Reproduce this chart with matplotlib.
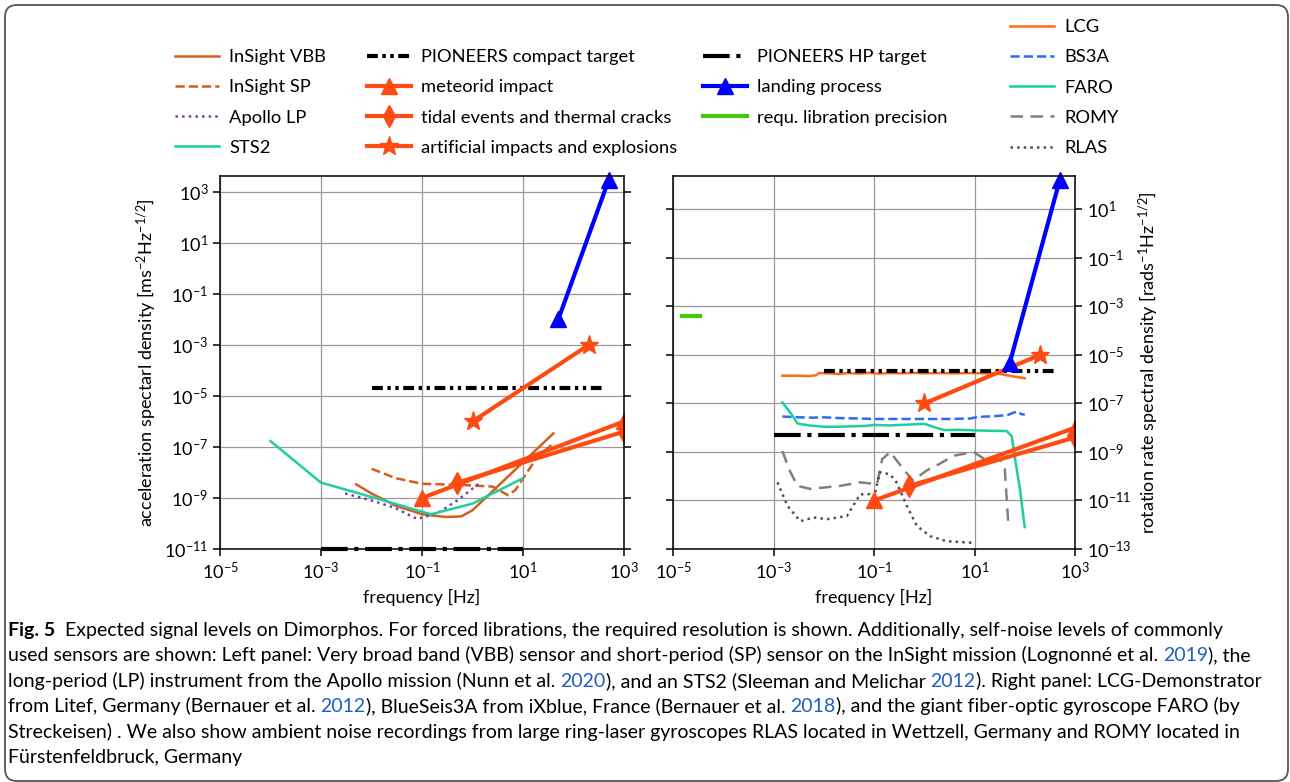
import matplotlib
matplotlib.use("Agg")
import matplotlib.pyplot as plt
from matplotlib.patches import FancyBboxPatch
from matplotlib.ticker import NullLocator
import matplotlib.transforms as mtransforms

plt.rcParams['font.family'] = ['Lato', 'DejaVu Sans']
plt.rcParams['mathtext.fontset'] = 'custom'
plt.rcParams['mathtext.rm'] = 'Lato'
plt.rcParams['mathtext.it'] = 'Lato:italic'
plt.rcParams['mathtext.bf'] = 'Lato:bold'

# ---- left panel: acceleration noise of seismometers ----
vbb_f = [5e-3, 1e-2, 3e-2, 0.1, 0.3, 0.6, 1, 40]
vbb_v = [3.4e-9, 1.5e-9, 5e-10, 2.3e-10, 1.8e-10, 1.9e-10, 3.3e-10, 3.4e-7]
sp_f = [0.01, 0.03, 0.1, 0.5, 2.5, 5, 7, 18, 38]
sp_v = [1.4e-8, 6e-9, 3.6e-9, 3.3e-9, 2.8e-9, 1.3e-9, 2e-9, 3.3e-8, 1.3e-7]
apollo_f = [3e-3, 0.01, 0.03, 0.08, 0.2, 0.5, 1.3]
apollo_v = [1.5e-9, 8e-10, 4e-10, 1.5e-10, 2.5e-10, 8e-10, 3.5e-9]
sts2_f = [1e-4, 1e-3, 1e-2, 0.15, 1, 10]
sts2_v = [1.7e-7, 4e-9, 1.1e-9, 2.3e-10, 6e-10, 6e-9]

# ---- right panel: rotation rate noise of rotational sensors ----
lcg_f = [1.5e-3, 3e-3, 5e-3, 7e-3, 8e-3, 0.012, 0.02, 0.03, 0.05, 0.08, 0.12,
         0.2, 0.35, 0.6, 1, 2, 4, 8, 15, 30, 60, 100]
lcg_v = [1.4e-6, 1.4e-6, 1.35e-6, 1.45e-6, 1.8e-6, 1.75e-6, 1.65e-6, 1.8e-6,
         1.7e-6, 1.85e-6, 1.7e-6, 1.8e-6, 1.75e-6, 1.85e-6, 1.75e-6, 1.8e-6,
         1.75e-6, 1.8e-6, 1.75e-6, 1.7e-6, 1.3e-6, 1.1e-6]
bs3a_f = [1.5e-3, 3e-3, 6e-3, 0.01, 0.02, 0.05, 0.1, 0.3, 1, 3, 8, 12, 25, 45,
          60, 75, 85, 100]
bs3a_v = [2.9e-8, 2.7e-8, 2.6e-8, 2.7e-8, 2.5e-8, 2.4e-8, 2.3e-8, 2.3e-8,
          2.3e-8, 2.3e-8, 2.4e-8, 2.8e-8, 3e-8, 3.3e-8, 4.2e-8, 4.6e-8,
          3.6e-8, 3.5e-8]
faro_f = [1.5e-3, 2.2e-3, 3e-3, 5e-3, 0.01, 0.02, 0.04, 0.07, 0.1, 0.2, 0.5, 1,
          1.5, 2.5, 5, 10, 20, 44, 55, 63, 80, 100]
faro_v = [1.1e-7, 4e-8, 1.5e-8, 1.25e-8, 1.1e-8, 1.1e-8, 1.15e-8, 1.2e-8,
          1.3e-8, 1.25e-8, 1.35e-8, 1.45e-8, 1.1e-8, 8e-9, 8.2e-9, 7.8e-9,
          7.5e-9, 7.3e-9, 4.5e-9, 6.6e-10, 3e-11, 8e-13]
romy_f = [1.5e-3, 2.1e-3, 3e-3, 5.4e-3, 0.021, 0.053, 0.115, 0.145, 0.21, 0.38,
          0.6, 1.1, 2, 3.8, 9.6, 20, 32, 40, 47]
romy_v = [1.1e-9, 1.7e-10, 4e-11, 3e-11, 4e-11, 5.6e-11, 4.7e-11, 5e-10, 1e-9,
          2e-10, 6.5e-11, 1.7e-10, 3.2e-10, 7e-10, 1e-9, 3.7e-10, 5e-10, 2e-10,
          1.2e-12]
rlas_f = [1.2e-3, 1.9e-3, 3.4e-3, 6.3e-3, 0.0116, 0.029, 0.053, 0.083, 0.1,
          0.13, 0.21, 0.28, 0.45, 0.71, 1.3, 2.8, 9.6]
rlas_v = [5.6e-11, 6e-12, 1.4e-12, 2e-12, 1.7e-12, 2.3e-12, 1.8e-11, 1.8e-11,
          1.3e-11, 1.45e-10, 1.2e-10, 5.6e-11, 6e-12, 9e-13, 3.4e-13, 2.1e-13,
          1.8e-13]

# ---- expected signals (left: acceleration, right: rotation rate) ----
meteor_f = [0.1, 1000]
meteor_acc = [1e-9, 1e-6]
meteor_rot = [1e-11, 1e-8]
tidal_f = [0.5, 1000]
tidal_acc = [4e-9, 4e-7]
tidal_rot = [4e-11, 4e-9]
artif_f = [1, 200]
artif_acc = [1e-6, 1e-3]
artif_rot = [1e-7, 1e-5]
landing_f = [50, 500]
landing_acc = [1e-2, 3e3]
landing_rot = [4.5e-6, 1.7e2]
compact_f = [0.01, 400]
compact_acc = [2e-5, 2e-5]
compact_rot = [2.2e-6, 2.2e-6]
hp_f = [1e-3, 10]
hp_acc = [1e-11, 1e-11]
hp_rot = [5e-9, 5e-9]
libr_f = [1.5e-5, 3.5e-5]
libr_rot = [4e-4, 4e-4]

caption_lines = [
    [("Fig. 5", "b"), ("  Expected signal levels on Dimorphos. For forced librations, the required resolution is shown. Additionally, self-noise levels of commonly", "")],
    [("used sensors are shown: Left panel: Very broad band (VBB) sensor and short-period (SP) sensor on the InSight mission (Lognonné et al. ", ""), ("2019", "l"), ("), the", "")],
    [("long-period (LP) instrument from the Apollo mission (Nunn et al. ", ""), ("2020", "l"), ("), and an STS2 (Sleeman and Melichar ", ""), ("2012", "l"), ("). Right panel: LCG-Demonstrator", "")],
    [("from Litef, Germany (Bernauer et al. ", ""), ("2012", "l"), ("), BlueSeis3A from iXblue, France (Bernauer et al. ", ""), ("2018", "l"), ("), and the giant fiber-optic gyroscope FARO (by", "")],
    [("Streckeisen) . We also show ambient noise recordings from large ring-laser gyroscopes RLAS located in Wettzell, Germany and ROMY located in", "")],
    [("Fürstenfeldbruck, Germany", "")],
]

C_INSIGHT = '#d45f1c'
C_APOLLO = '#7a3fa6'
C_TEAL = '#1ccf9c'
C_SIGNAL = '#ff4a12'
C_LCG = '#ff6a14'
C_BS3A = '#2a6cf5'

W, H = 1290, 782
fig = plt.figure(figsize=(W / 100, H / 100), dpi=100)
ax1 = fig.add_axes([220 / W, 1 - 549 / H, 404 / W, 373 / H])
ax2 = fig.add_axes([673 / W, 1 - 549 / H, 402 / W, 373 / H])

lw_s = 1.8
sig = dict(lw=3, ms=11)
dash_dot_dot = (0, (2.6, 1.1, 0.8, 1.1, 0.8, 1.1))

h = {}
h['vbb'], = ax1.plot(vbb_f, vbb_v, color=C_INSIGHT, lw=lw_s, label='InSight VBB')
h['sp'], = ax1.plot(sp_f, sp_v, color=C_INSIGHT, lw=lw_s, ls='--', label='InSight SP')
h['apollo'], = ax1.plot(apollo_f, apollo_v, color=C_APOLLO, lw=lw_s, ls=':', label='Apollo LP')
h['sts2'], = ax1.plot(sts2_f, sts2_v, color=C_TEAL, lw=lw_s, label='STS2')
h['compact'], = ax1.plot(compact_f, compact_acc, color='k', lw=3, ls=dash_dot_dot,
                         label='PIONEERS compact target')
ax1.plot(hp_f, hp_acc, color='k', lw=3, ls='-.', clip_on=False)
h['meteor'], = ax1.plot(meteor_f, meteor_acc, color=C_SIGNAL, marker='^', label='meteorid impact', **sig)
h['tidal'], = ax1.plot(tidal_f, tidal_acc, color=C_SIGNAL, marker='d', label='tidal events and thermal cracks', **sig)
h['artif'], = ax1.plot(artif_f, artif_acc, color=C_SIGNAL, marker='*', label='artificial impacts and explosions', lw=3, ms=14)
ax1.plot(landing_f, landing_acc, color='b', marker='^', clip_on=False, **sig)

h['lcg'], = ax2.plot(lcg_f, lcg_v, color=C_LCG, lw=lw_s, label='LCG')
h['bs3a'], = ax2.plot(bs3a_f, bs3a_v, color=C_BS3A, lw=lw_s, ls='--', label='BS3A')
h['faro'], = ax2.plot(faro_f, faro_v, color=C_TEAL, lw=lw_s, label='FARO')
h['romy'], = ax2.plot(romy_f, romy_v, color='#808080', lw=lw_s, ls=(0, (5, 3)), label='ROMY')
h['rlas'], = ax2.plot(rlas_f, rlas_v, color='#505050', lw=lw_s, ls=':', label='RLAS')
ax2.plot(compact_f, compact_rot, color='k', lw=3, ls=dash_dot_dot)
h['hp'], = ax2.plot(hp_f, hp_rot, color='k', lw=3, ls='-.', label='PIONEERS HP target')
ax2.plot(meteor_f, meteor_rot, color=C_SIGNAL, marker='^', **sig)
ax2.plot(tidal_f, tidal_rot, color=C_SIGNAL, marker='d', **sig)
ax2.plot(artif_f, artif_rot, color=C_SIGNAL, marker='*', lw=3, ms=14)
h['landing'], = ax2.plot(landing_f, landing_rot, color='b', marker='^', clip_on=False,
                         label='landing process', **sig)
h['libr'], = ax2.plot(libr_f, libr_rot, color='#46c80a', lw=3, label='requ. libration precision')

for ax in (ax1, ax2):
    ax.set_xscale('log')
    ax.set_yscale('log')
    ax.set_xlim(1e-5, 1e3)
    ax.set_xticks([1e-5, 1e-3, 1e-1, 1e1, 1e3])
    ax.xaxis.set_minor_locator(NullLocator())
    ax.yaxis.set_minor_locator(NullLocator())
    ax.grid(True, color='#9a9a9a', lw=0.9)
    ax.tick_params(labelsize=13, direction='out', length=5, width=1.1,
                   left=True, right=True)
    ax.set_xlabel('frequency [Hz]', fontsize=13, labelpad=5)
    for s in ax.spines.values():
        s.set_linewidth(1.1)
    ax.set_axisbelow(True)

ax1.set_ylim(1e-11, 4.2e3)
ax1.set_yticks([10.0 ** k for k in range(-11, 4, 2)])
ax1.yaxis.set_minor_locator(NullLocator())
ax1.set_ylabel(r'acceleration spectarl density [ms$^{-2}$Hz$^{-1/2}$]', fontsize=13)

ax2.set_ylim(1e-13, 2.4e2)
ax2.set_yticks([10.0 ** k for k in range(-13, 2, 2)])
ax2.yaxis.set_minor_locator(NullLocator())
ax2.tick_params(labelleft=False, labelright=True)
ax2.yaxis.set_label_position('right')
ax2.set_ylabel(r'rotation rate spectral density [rads$^{-1}$Hz$^{-1/2}$]', fontsize=13)

# legends, four columns above the panels
leg_cols = [
    (['vbb', 'sp', 'apollo', 'sts2'], 175, 49),
    (['compact', 'meteor', 'tidal', 'artif'], 367, 49),
    (['hp', 'landing', 'libr'], 703, 49),
    (['lcg', 'bs3a', 'faro', 'romy', 'rlas'], 1010, 19),
]
for keys, x, y in leg_cols:
    leg = fig.legend([h[k] for k in keys], [h[k].get_label() for k in keys],
                     loc='upper left', bbox_to_anchor=(x / W, 1 - y / H),
                     frameon=False, fontsize=13.2, borderpad=0, borderaxespad=0,
                     handlelength=2.4, handletextpad=0.55, labelspacing=0.78,
                     numpoints=1)

# rounded frame around the figure
frame = FancyBboxPatch((5, 1), 1283, 776, boxstyle='round,pad=0,rounding_size=12',
                       transform=mtransforms.IdentityTransform(),
                       facecolor='none', edgecolor='#555555', lw=1.3)
fig.patches.append(frame)

# caption with bold label and blue years
fig.canvas.draw()
rend = fig.canvas.get_renderer()
cap_font = dict(fontsize=14, family=['Lato', 'DejaVu Sans'], va='baseline', ha='left')


def text_width(s, **kw):
    t = fig.text(0, 0, 'x' + s + 'x', **kw)
    w1 = t.get_window_extent(rend).width
    t.set_text('xx')
    w2 = t.get_window_extent(rend).width
    t.remove()
    return w1 - w2


y0 = 636
for i, segs in enumerate(caption_lines):
    xpx = 8
    ypx = y0 + i * 25.4
    for s, style in segs:
        kw = dict(cap_font)
        if style == 'b':
            kw['fontweight'] = 'bold'
        if style == 'l':
            kw['color'] = '#1f5fbf'
        fig.text(xpx / W, 1 - ypx / H, s, **kw)
        xpx += text_width(s, **kw)

fig.savefig('out.png', dpi=100)
